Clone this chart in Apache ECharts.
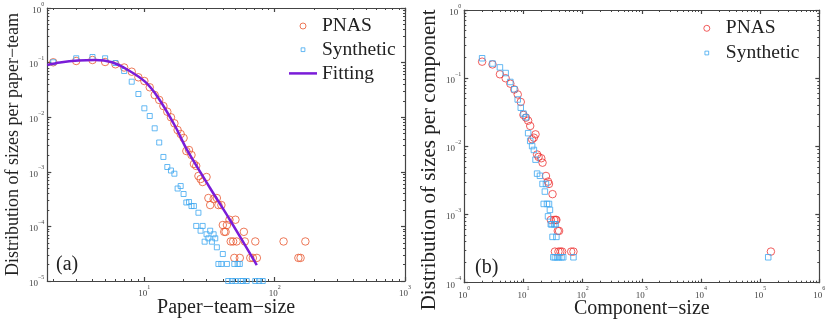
<!DOCTYPE html>
<html><head><meta charset="utf-8">
<script src="https://cdn.jsdelivr.net/npm/echarts@6/dist/echarts.min.js"></script>
<style>html,body{margin:0;padding:0;background:#fff}#c{width:830px;height:319px}</style>
</head><body><div id="c"></div>
<script>
// ---------- Panel (a): paper-team sizes ----------
const teamSizePNAS = [2,3,4,5,6,7,8,9,10,11,12,13,14,15,16,17,18,19,20,21,22,23,24,25,26,27,28,30,31,32,34,36,37,39,40,41,42,43,45,46,48,49,50,51,54,58,59,65,68,71,73,117,152,158,172];
const teamDistPNAS = [0.1013,0.107,0.1116,0.1026,0.0931,0.0813,0.0681,0.0538,0.046,0.0353,0.0255,0.0207,0.016,0.0126,0.00996,0.00773,0.00583,0.00492,0.00416,0.0024,0.00251,0.00203,0.00139,0.00128,0.000838,0.000738,0.00065,0.000803,0.000331,0.000246,0.000318,0.000331,0.000246,0.000246,0.000106,0.0000795,0.0000795,0.000106,0.0001325,0.000053,0.000053,0.0000265,0.0001325,0.000053,0.0000265,0.0000795,0.000053,0.0000265,0.0000265,0.000053,0.0000265,0.000053,0.0000265,0.0000265,0.000053];
const teamSizeSyn = [2,3,4,5,6,7,8,9,10,11,12,13,14,15,16,17,18,19,20,21,22,23,24,25,26,27,28,29,30,31,32,33,34,35,36,37,39,40,43,49,52,54,44,47,50,55,57,61,71,76,81];
const teamDistSyn = [0.1013,0.1199,0.1266,0.1199,0.0983,0.0702,0.0447,0.0266,0.01455,0.01052,0.00626,0.00344,0.00187,0.001224,0.001056,0.000923,0.000494,0.000549,0.000392,0.000274,0.00028,0.000236,0.000236,0.000102,0.000178,0.0000834,0.000102,0.0000525,0.0000717,0.0000605,0.0000834,0.0000525,0.0000717,0.0000605,0.0000414,0.0000205,0.0000205,0.0000312,0.0000205,0.0000205,0.0000205,0.0000205,0.00001,0.00001,0.00001,0.00001,0.00001,0.00001,0.00001,0.00001,0.00001];
const fitSize = [1.8,2.25,3.1,4.18,5.65,7.49,10.12,12.73,17.2,21.26,31.9,45.4,72.9];
const fitDist = [0.0904,0.1004,0.1093,0.1116,0.1013,0.0732,0.0447,0.02295,0.0069,0.00251,0.000505,0.000131,0.0000196];

// ---------- Panel (b): component sizes ----------
const compSizePNAS = [2,3,4,5,6,7,8,9,10,11,12,13,14,15,16,17,18,20,21,24,26,27,31,29,33,35,36,38,40,34,39,42,45,64,70,152000];
const compDistPNAS = [0.1746,0.159,0.114,0.0997,0.083,0.0683,0.0577,0.0448,0.0289,0.0264,0.0238,0.0199,0.0127,0.0134,0.015,0.0076,0.007,0.00669,0.00576,0.00368,0.00304,0.00281,0.00199,0.000833,0.000833,0.000833,0.000833,0.000575,0.000575,0.000286,0.000286,0.000286,0.000286,0.000286,0.000286,0.000286];
const compSizeSyn = [2,3,4,5,6,7,8,9,10,11,12,13,14,15,16,17,19,21,22,23,24,25,26,27,28,29,30,33,35,31,36,32,34,37,40,44,47,70,137000];
const compDistSyn = [0.196,0.164,0.144,0.119,0.088,0.0688,0.0487,0.0369,0.0302,0.0267,0.0156,0.012,0.0101,0.00885,0.00638,0.00398,0.0037,0.00281,0.00143,0.00217,0.00281,0.00143,0.00094,0.00143,0.00117,0.00072,0.00072,0.00072,0.00072,0.00047,0.00047,0.000236,0.000236,0.000236,0.000236,0.000236,0.000236,0.000236,0.000236];

// ---------- Axis ticks ----------
const xMajorA = [10,100,1000];
const yMajorA = [1e-5,1e-4,1e-3,1e-2,1e-1,1];
const xMajorB = [1,10,100,1000,1e4,1e5,1e6];
const yMajorB = [1e-4,1e-3,1e-2,1e-1,1];
const minorMult = [2,3,4,5,6,7,8,9];
function minors(decades, lo, hi){ const out=[]; decades.forEach(d=>minorMult.forEach(m=>{const v=m*d; if(v>=lo&&v<=hi) out.push(v);})); return out; }
const xMinorA = minors([1,10,100],1.8,1000);
const yMinorA = minors([1e-5,1e-4,1e-3,1e-2,1e-1],1e-5,1);
const xMinorB = minors([1,10,100,1000,1e4,1e5],1,1e6);
const yMinorB = minors([1e-4,1e-3,1e-2,1e-1],1e-4,1);

const FONT = "'Liberation Serif','Times New Roman',serif";
const AXC = '#444';
const C_PNAS_A = '#E8582F', C_PNAS_B = '#EE3535', C_SYN = '#3FA7F0', C_FIT = '#7A1CD8';

function sci(v){ const e = Math.round(Math.log10(v)); return '{b|10}{e|' + (e<0 ? '\u2212'+(-e) : e) + '}'; }
const rich = { b:{fontSize:9, lineHeight:14, verticalAlign:'bottom', fontFamily:FONT, color:'#444'}, e:{fontSize:6, lineHeight:6, verticalAlign:'top', fontFamily:FONT, color:'#444'} };

function axesSet(kind, gridIndex, min, max, major, minor, name, nameGap, nameSize, margin, namePad){
  const isX = kind==='x';
  const base = {type:'log', logBase:10, gridIndex, min, max, splitLine:{show:false}, minorTick:{show:false}, minorSplitLine:{show:false}, silent:true};
  const ls = {color:AXC, width:1.2};
  const p1 = isX ? 'bottom' : 'left', p2 = isX ? 'top' : 'right';
  return [
    Object.assign({}, base, {position:p1, name, nameLocation:'middle', nameGap, nameMoveOverlap:false,
      nameTextStyle:{fontFamily:FONT, fontSize:nameSize, color:'#222', padding:namePad||0},
      axisLine:{show:true, onZero:false, lineStyle:ls},
      axisTick:{show:true, inside:true, length:4, customValues:major, lineStyle:ls},
      axisLabel:{show:true, customValues:major, formatter:sci, rich, margin, hideOverlap:false}}),
    Object.assign({}, base, {position:p1, axisLine:{show:false, onZero:false},
      axisTick:{show:true, inside:true, length:2, customValues:minor, lineStyle:{color:AXC, width:1}}, axisLabel:{show:false}}),
    Object.assign({}, base, {position:p2, axisLine:{show:true, onZero:false, lineStyle:ls},
      axisTick:{show:true, inside:true, length:4, customValues:major, lineStyle:ls}, axisLabel:{show:false}}),
    Object.assign({}, base, {position:p2, axisLine:{show:false, onZero:false},
      axisTick:{show:true, inside:true, length:2, customValues:minor, lineStyle:{color:AXC, width:1}}, axisLabel:{show:false}})
  ];
}

const zip = (a,b)=>a.map((v,i)=>[v,b[i]]);

const xAxes = [].concat(
  axesSet('x',0,1.8,1000,xMajorA,xMinorA,'Paper\u2212team\u2212size',17,20,3),
  axesSet('x',1,1,1e6,xMajorB,xMinorB,'Component\u2212size',16,20,3));
const yAxes = [].concat(
  axesSet('y',0,1e-5,1,yMajorA,yMinorA,'Distribution of sizes per paper\u2212team',25,18,3),
  axesSet('y',1,1e-4,1,yMajorB,yMinorB,'Distribution of sizes per component',24,21,3,[0,27,0,0]));

const hollow = c => ({color:'rgba(0,0,0,0)', borderColor:c, borderWidth:1});
const sqPath = 'path://M0,0M8,8M1.5,1.5L6.5,1.5L6.5,6.5L1.5,6.5Z';
const linePath = 'path://M0,0L28,0L28,2.5L0,2.5Z';

const option = {
  animation:false,
  backgroundColor:'#fff',
  grid:[
    {left:47.3, top:8, right:425, bottom:38, outerBoundsMode:'none', containLabel:false},
    {left:464.3, top:10, right:10.7, bottom:36.3, outerBoundsMode:'none', containLabel:false}
  ],
  xAxis:xAxes, yAxis:yAxes,
  legend:[
    {left:284, top:11, orient:'vertical', itemWidth:28, itemHeight:6, itemGap:3.7, selectedMode:false,
     textStyle:{fontFamily:FONT, fontSize:19.5, color:'#222', lineHeight:18},
     data:[{name:'PNAS', icon:'circle', itemStyle:hollow(C_PNAS_A)},
           {name:'Synthetic', icon:sqPath, itemStyle:hollow(C_SYN)},
           {name:'Fitting', icon:linePath, itemStyle:{color:C_FIT, borderWidth:0}}]},
    {left:698.3, top:13.3, orient:'vertical', itemWidth:28, itemHeight:6, itemGap:4.7, selectedMode:false,
     textStyle:{fontFamily:FONT, fontSize:19.5, color:'#222', lineHeight:18},
     data:[{name:'PNAS', icon:'circle', itemStyle:hollow(C_PNAS_B)},
           {name:'Synthetic', icon:sqPath, itemStyle:hollow(C_SYN)}]}
  ],
  graphic:[
    {type:'text', left:56, top:255, style:{text:'(a)', font:"20px 'Liberation Serif', serif", fill:'#222'}},
    {type:'text', left:475, top:258, style:{text:'(b)', font:"20px 'Liberation Serif', serif", fill:'#222'}}
  ],
  series:[
    {name:'PNAS', type:'scatter', xAxisIndex:0, yAxisIndex:0, symbol:'circle', symbolSize:7.5, itemStyle:hollow(C_PNAS_A), data:zip(teamSizePNAS,teamDistPNAS), z:2},
    {name:'Synthetic', type:'scatter', xAxisIndex:0, yAxisIndex:0, symbol:'rect', symbolSize:5, itemStyle:hollow(C_SYN), data:zip(teamSizeSyn,teamDistSyn), z:3},
    {name:'Fitting', type:'line', xAxisIndex:0, yAxisIndex:0, symbol:'none', showSymbol:false, smooth:0.3, lineStyle:{color:C_FIT, width:2.5}, itemStyle:{color:C_FIT}, data:zip(fitSize,fitDist), z:4},
    {name:'PNAS', type:'scatter', xAxisIndex:4, yAxisIndex:4, symbol:'circle', symbolSize:7.5, itemStyle:hollow(C_PNAS_B), data:zip(compSizePNAS,compDistPNAS), z:2},
    {name:'Synthetic', type:'scatter', xAxisIndex:4, yAxisIndex:4, symbol:'rect', symbolSize:5.5, itemStyle:hollow(C_SYN), data:zip(compSizeSyn,compDistSyn), z:3}
  ]
};
const chart = echarts.init(document.getElementById('c'), null, {renderer:'canvas'});
chart.setOption(option);
</script></body></html>
